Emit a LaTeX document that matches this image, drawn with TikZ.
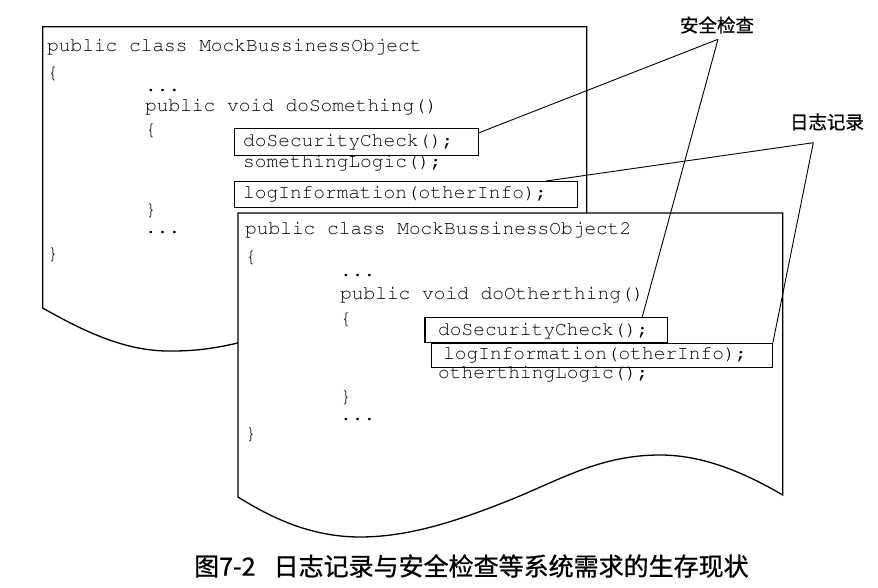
\documentclass[tikz,border=0pt]{standalone}
\usepackage[T1]{fontenc}
\usepackage{fontspec}
\newfontfamily\cjk{Noto Sans CJK SC}[FakeBold=0.8]
\newcommand{\codefont}{\fontencoding{T1}\fontfamily{pcr}\fontseries{m}\fontshape{n}\fontsize{19.5}{19.5}\selectfont}
\begin{document}
\begin{tikzpicture}[x=1pt,y=-1pt,
  code/.style={font=\codefont, anchor=base west, inner sep=0pt},
  lab/.style={font=\fontsize{18.5}{18.5}\selectfont\cjk, inner sep=0pt},
  frame/.style={draw, line width=1.3pt, fill=white, line join=miter},
  hlbox/.style={draw, line width=1.2pt, inner sep=0pt, anchor=north west},
  conn/.style={line width=0.9pt}]
\useasboundingbox (0,0) rectangle (878,588);

% ---------- first class (behind) ----------
\draw[frame] (42.7,26.7) -- (586.7,26.7) -- (586.7,330)
  .. controls (450,330) and (300,333) .. (238,343)
  .. controls (220,347) and (200,351) .. (173,351)
  .. controls (130,352) and (90,335) .. (42.7,308) -- cycle;

\node[code] (a1) at (47,51.7) {public class MockBussinessObject};
\node[code] (a2) at (47,78.6) {\{};
\node[code] (a3) at (145,91.7) {...};
\node[code] (a4) at (145,111.7) {public void doSomething()};
\node[code] (a5) at (145,136) {\{};
\node[hlbox, minimum width=244pt, minimum height=26.7pt] (s1) at (234,128.3) {};
\node[code] (a6) at (243,146.7) {doSecurityCheck();};
\node[code] (a7) at (243,168) {somethingLogic();};
\node[hlbox, minimum width=343pt, minimum height=25.7pt] (l1) at (234,181) {};
\node[code] (a8) at (243,199) {logInformation(otherInfo);};
\node[code] (a9) at (145,216) {\}};
\node[code] (a10) at (145,233.3) {...};
\node[code] (a11) at (47,259.4) {\}};

% ---------- second class (front) ----------
\draw[frame] (238,213) -- (782.7,213) -- (782.7,495)
  .. controls (740,470) and (700,455) .. (660,455)
  .. controls (600,455) and (560,480) .. (510,500)
  .. controls (460,520) and (410,537) .. (360,537)
  .. controls (310,537) and (270,517) .. (238,497) -- cycle;

\node[code] (b1) at (245,235) {public class MockBussinessObject2};
\node[code] (b2) at (245,262.8) {\{};
\node[code] (b3) at (340,276.7) {...};
\node[code] (b4) at (340,299) {public void doOtherthing()};
\node[code] (b5) at (340,324) {\{};
\node[hlbox, line width=1.6pt, minimum width=242.7pt, minimum height=25pt] (s2) at (424,316.7) {};
\node[code] (b6) at (438,335) {doSecurityCheck();};
\node[code] (b8) at (438,378) {otherthingLogic();};
\node[hlbox, minimum width=341pt, minimum height=24pt] (l2) at (430.7,342.7) {};
\node[code] (b7) at (443,359.3) {logInformation(otherInfo);};
\node[code] (b9) at (340,402.8) {\}};
\node[code] (b10) at (340,420) {...};
\node[code] (b11) at (245,439) {\}};

% ---------- labels and connectors ----------
\node[lab] (safe) at (717,25) {安全检查};
\node[lab] (logl) at (827,122) {日志记录};
\coordinate (safeA) at (718,39.3);
\coordinate (logA) at (813.3,142.7);

\draw[conn] (safeA) -- ([yshift=-4.4pt]s1.north east);
\draw[conn] (safeA) -- ([xshift=-26pt]s2.north east);
\draw[conn] (logA) -- ([xshift=-32pt]l1.north east);
\draw[conn] (logA) -- (l2.north east);

% ---------- caption ----------
\node[font=\fontsize{25}{25}\selectfont\cjk, anchor=west, inner sep=0pt] (cap) at (194,566)
  {图7-2\hspace{18pt}日志记录与安全检查等系统需求的生存现状};
\end{tikzpicture}
\end{document}
